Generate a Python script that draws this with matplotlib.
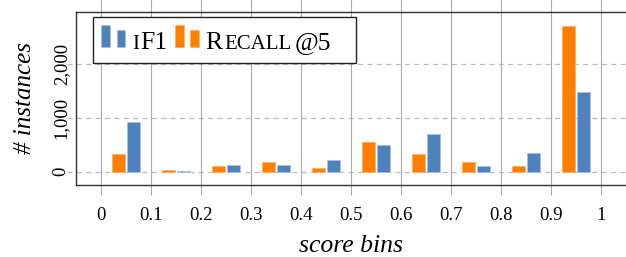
import matplotlib
matplotlib.use("Agg")
import matplotlib.pyplot as plt
import matplotlib.transforms as mtransforms
from matplotlib.patches import Rectangle
from matplotlib.offsetbox import DrawingArea, TextArea, HPacker, AnchoredOffsetbox
import numpy as np

# ---------------- data ----------------
bin_starts = [0.0, 0.1, 0.2, 0.3, 0.4, 0.5, 0.6, 0.7, 0.8, 0.9]
recall5 = [328, 25, 105, 173, 56, 541, 317, 168, 99, 2698]
if1 = [920, 10, 118, 118, 205, 490, 702, 105, 347, 1480]
xticks = [0, 0.1, 0.2, 0.3, 0.4, 0.5, 0.6, 0.7, 0.8, 0.9, 1.0]
xticklabels = ["0", "0.1", "0.2", "0.3", "0.4", "0.5", "0.6", "0.7", "0.8", "0.9", "1"]
yticks = [0, 1000, 2000]
yticklabels = ["0", "1,000", "2,000"]

# ---------------- style ----------------
SERIF = ["Liberation Serif", "DejaVu Serif"]
plt.rcParams["font.family"] = SERIF
ORANGE = "#ff7f00"
BLUE = "#4f81bd"
ORANGE_EDGE = "#ffb060"
BLUE_EDGE = "#a9c1e0"
VGRID = "#aaaaaa"
HGRID = "#bbbbbb"

W, H = 626, 257
fig = plt.figure(figsize=(W / 100, H / 100), dpi=100)
ax = fig.add_axes([76 / W, 1 - 185 / H, 550 / W, (185 - 11.7) / H])

centers = np.array(bin_starts) + 0.05
bw = 0.026
off = 0.0148
ax.bar(centers - off, recall5, width=bw, color=ORANGE, edgecolor=ORANGE_EDGE,
       linewidth=0.6, zorder=3)
ax.bar(centers + off, if1, width=bw, color=BLUE, edgecolor=BLUE_EDGE,
       linewidth=0.6, zorder=3)

ax.set_xlim(-0.05, 1.05)
ax.set_ylim(-250, 2960)

ax.set_xticks(xticks)
ax.set_xticklabels(xticklabels, fontsize=13.5)
ax.tick_params(axis="x", direction="out", length=7.2, width=0.8, color=VGRID,
               pad=8.5, top=True)
for t in ax.xaxis.get_major_ticks():
    t.tick2line.set_markersize(12)
ax.grid(axis="x", color=VGRID, linewidth=0.8, zorder=0)

ax.set_yticks(yticks)
ax.set_yticklabels(yticklabels, fontsize=13.5, rotation=90, va="center")
ax.tick_params(axis="y", length=0, pad=4.5)
blend = mtransforms.blended_transform_factory(ax.transAxes, ax.transData)
for yv in yticks:
    ax.plot([-0.016, 1.0], [yv, yv], transform=blend, color=HGRID,
            linewidth=0.9, dashes=(4, 3.5), clip_on=False, zorder=1)

for s in ["left", "bottom", "top"]:
    ax.spines[s].set_color("#333333")
    ax.spines[s].set_linewidth(1.0)
    ax.spines[s].set_zorder(4)
ax.spines["right"].set_visible(False)

fig.text(351 / W, 1 - 246 / H, "score bins", ha="center", va="center",
         fontsize=18.5, style="italic")
fig.text(25 / W, 1 - 97.5 / H, "# instances", ha="center", va="center",
         fontsize=18, style="italic", rotation=90)

# ---------------- legend (small caps emulated) ----------------
def handle(color, edge):
    lift = 1.7
    da = DrawingArea(17.3, 15.6 + lift, 0, 0)
    da.add_artist(Rectangle((0, lift), 6.2, 15.6, facecolor=color, edgecolor=edge, lw=0.5))
    da.add_artist(Rectangle((11.1, lift), 6.2, 12.2, facecolor=color, edgecolor=edge, lw=0.5))
    return da

BIG = dict(size=18.5, family=SERIF)
SMALL = dict(size=15, family=SERIF)

lab1 = HPacker(children=[TextArea("I", textprops=SMALL), TextArea("F1", textprops=BIG)],
               sep=0.8, pad=0, align="baseline")
lab2 = HPacker(children=[TextArea("R", textprops=BIG), TextArea("ECALL", textprops=SMALL),
                         TextArea("@5", textprops=BIG)],
               sep=1.5, pad=0, align="baseline")
e1 = HPacker(children=[handle(BLUE, BLUE_EDGE), lab1], sep=4.8, pad=0, align="baseline")
e2 = HPacker(children=[handle(ORANGE, ORANGE_EDGE), lab2], sep=4.8, pad=0, align="baseline")
spacer = DrawingArea(6.5, 1, 0, 0)
row = HPacker(children=[e1, e2, spacer], sep=5.5, pad=0, align="baseline")
leg = AnchoredOffsetbox(loc="upper left", child=row, pad=0.6, borderpad=0,
                        frameon=True, prop=dict(size=10),
                        bbox_to_anchor=(93 / W, 1 - 17 / H),
                        bbox_transform=fig.transFigure)
leg.patch.set_boxstyle("square", pad=0)
leg.patch.set_edgecolor("#222222")
leg.patch.set_linewidth(1.0)
leg.set_zorder(10)
ax.add_artist(leg)

fig.savefig("out.png", dpi=100)
